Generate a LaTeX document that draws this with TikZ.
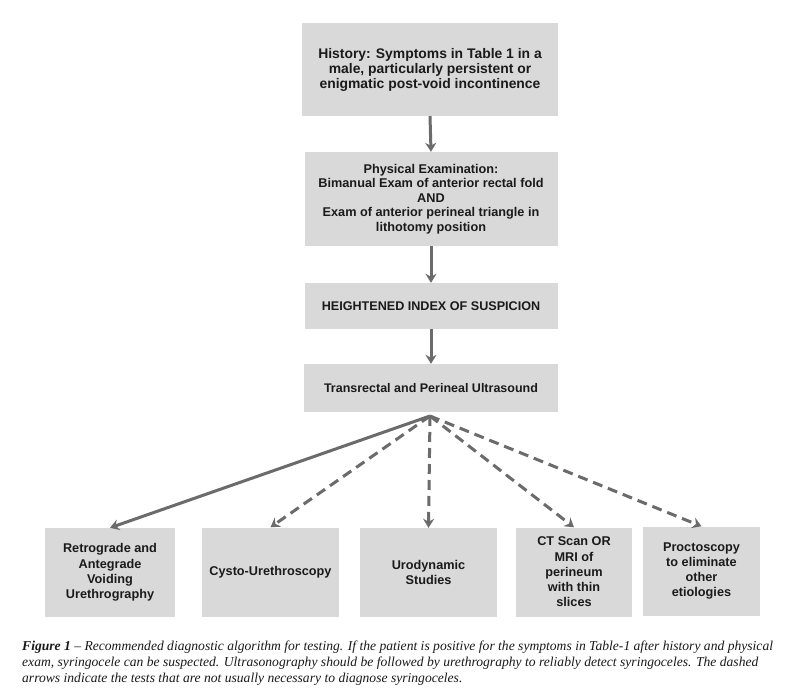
\documentclass[tikz,border=0pt]{standalone}
\usepackage{fontspec}
\setmainfont{Liberation Sans}
\newfontfamily\capfont{Liberation Serif}
\usetikzlibrary{arrows.meta}
\definecolor{boxgray}{HTML}{D9D9D9}
\definecolor{arrgray}{HTML}{6B6B6B}
\definecolor{txt}{HTML}{1A1A1A}
\tikzset{
  box/.style={draw=none,fill=boxgray,inner sep=0pt,align=center,text=txt,font=\bfseries\fontsize{12.7}{14.5}\selectfont},
  flow/.style={draw=arrgray,line width=3pt,-{Stealth[length=9pt,width=11pt,inset=3pt]}},
  opt/.style={flow,dash pattern=on 10pt off 6pt}
}
\begin{document}
\begin{tikzpicture}[x=1pt,y=-1pt]
\useasboundingbox (0,0) rectangle (806,700);
\fill[white] (0,0) rectangle (806,700);
% main column
\node[box,minimum width=256pt,minimum height=93pt,font=\bfseries\fontsize{13.9}{15}\selectfont] (hist) at (430,69.5)
  {History: Symptoms in Table 1 in a\\male, particularly persistent or\\enigmatic post-void incontinence};
\node[box,minimum width=253pt,minimum height=94pt] (phys) at (431,199)
  {Physical Examination:\\Bimanual Exam of anterior rectal fold\\AND\\Exam of anterior perineal triangle in\\lithotomy position};
\node[box,minimum width=253pt,minimum height=46pt,font=\bfseries\fontsize{12.6}{14.5}\selectfont] (susp) at (431,306)
  {HEIGHTENED INDEX OF SUSPICION};
\node[box,minimum width=254pt,minimum height=48pt,font=\bfseries\fontsize{12.5}{14.5}\selectfont] (us) at (431,388)
  {Transrectal and Perineal Ultrasound};
\coordinate (src) at (430,416);
% bottom row
\tikzset{low/.style={box,minimum height=89pt,font=\bfseries\fontsize{12.7}{15.3}\selectfont}}
\node[low,minimum width=130pt] (rug) at (110,572.5)
  {Retrograde and\\Antegrade\\Voiding\\Urethrography};
\node[low,minimum width=137pt] (cys) at (270.5,572)
  {Cysto-Urethroscopy};
\node[low,minimum width=137pt] (uro) at (428.5,572.5)
  {Urodynamic\\Studies};
\node[low,minimum width=116pt] (ct) at (574,572)
  {CT Scan OR\\MRI of\\perineum\\with thin\\slices};
\node[low,minimum width=117pt] (pro) at (701.5,571)
  {Proctoscopy\\to eliminate\\other\\etiologies};
% arrows
\draw[flow] (hist.south) -- (phys.north);
\draw[flow] (phys.south) -- (susp.north);
\draw[flow] (susp.south) -- (us.north);
\draw[flow] (src) -- (rug.north);
\draw[opt] (src) -- (cys.north);
\draw[opt] (src) -- (uro.north);
\draw[opt] (src) -- (ct.north);
\draw[opt] (src) -- (pro.north);
% caption
\node[anchor=north west,inner sep=0pt,align=left,text=txt,font=\capfont\itshape\fontsize{13.6}{16}\selectfont] (cap) at (22,641)
  {\textbf{Figure 1} – Recommended diagnostic algorithm for testing. If the patient is positive for the symptoms in Table-1 after history and physical\\
   exam, syringocele can be suspected. Ultrasonography should be followed by urethrography to reliably detect syringoceles. The dashed\\
   arrows indicate the tests that are not usually necessary to diagnose syringoceles.};
\end{tikzpicture}
\end{document}
